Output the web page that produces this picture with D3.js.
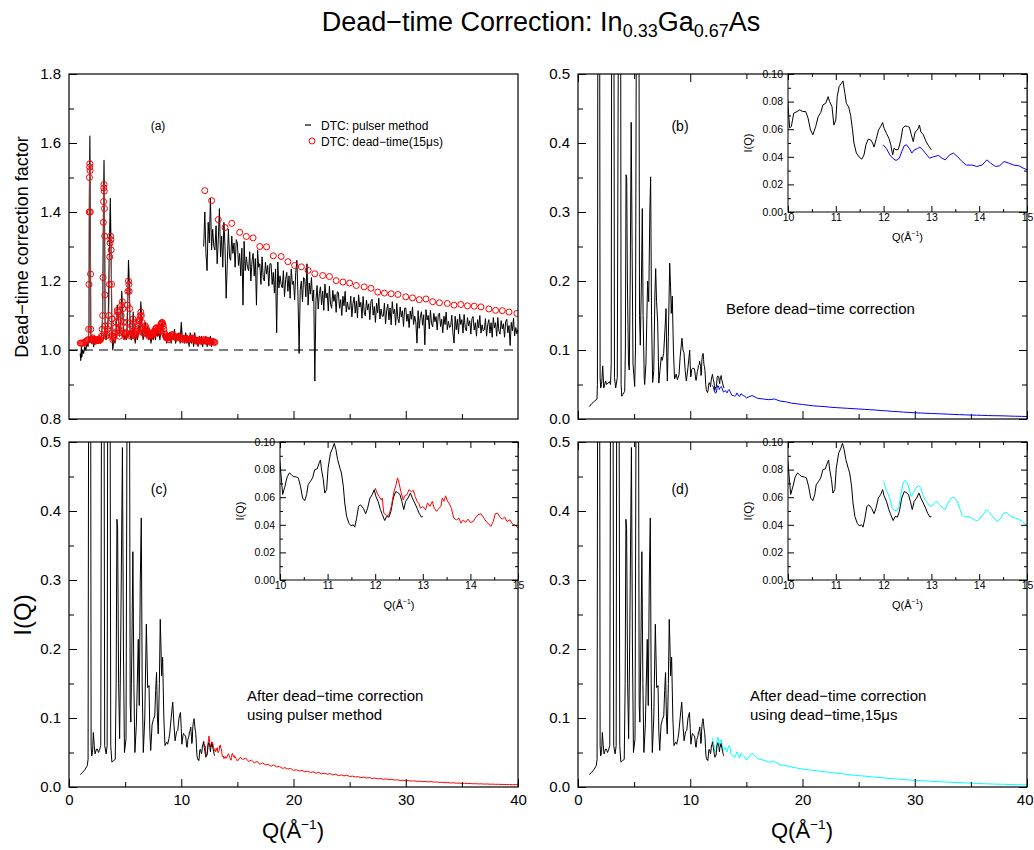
<!DOCTYPE html>
<html>
<head>
<meta charset="utf-8">
<script src="https://cdn.jsdelivr.net/npm/d3@7"></script>
<style>
  body { margin: 0; background: #fff; }
  svg { display: block; font-family: 'Liberation Sans', Arial, Helvetica, sans-serif; }
</style>
</head>
<body>
<div id="chart"></div>
<script>
// ---- data ----

// (a) dead-time correction factor, pulser method, low-Q bank  [Q, factor]
const dtcPulserLow = [
  [1.0,0.99],[1.05,0.97],[1.1,1.01],[1.15,0.98],[1.2,1.0],[1.3,0.99],[1.4,1.01],[1.5,1.0],[1.6,1.02],[1.7,1.01],
  [1.78,1.06],[1.82,1.45],[1.86,1.62],[1.9,1.4],[1.94,1.05],[2.0,1.02],[2.1,1.03],[2.2,1.01],[2.3,1.03],[2.4,1.02],
  [2.5,1.03],[2.6,1.02],[2.7,1.03],[2.8,1.02],[2.9,1.04],[3.0,1.1],[3.07,1.4],[3.12,1.55],[3.17,1.35],[3.22,1.06],
  [3.3,1.03],[3.4,1.05],[3.5,1.1],[3.6,1.3],[3.68,1.44],[3.75,1.28],[3.82,1.05],[3.9,1.0],[4.0,1.03],[4.1,1.02],
  [4.2,1.06],[4.3,1.13],[4.4,1.09],[4.5,1.04],[4.6,1.08],[4.7,1.17],[4.8,1.10],[4.9,1.03],[5.0,1.04],[5.1,1.03],
  [5.2,1.08],[5.3,1.26],[5.38,1.18],[5.45,1.04],[5.55,1.03],[5.65,1.06],[5.72,1.11],[5.8,1.05],[5.9,1.02],[6.0,1.05],
  [6.1,1.03],[6.2,1.07],[6.3,1.05],[6.4,1.14],[6.5,1.07],[6.6,1.03],[6.7,1.05],[6.8,1.08],[6.9,1.04],[7.0,1.06],
  [7.1,1.03],[7.2,1.05],[7.3,1.02],[7.4,1.04],[7.5,1.03],[7.6,1.05],[7.7,1.03],[7.8,1.06],[7.9,1.04],[8.0,1.05],
  [8.1,1.03],[8.2,1.07],[8.3,1.08],[8.4,1.05],[8.5,1.03],[8.6,1.04],[8.7,1.02],[8.8,1.04],[8.9,1.03],[9.0,1.05],
  [9.1,1.02],[9.2,1.04],[9.3,1.03],[9.4,1.06],[9.5,1.02],[9.6,1.04],[9.7,1.03],[9.8,1.05],[9.9,1.02],[10.0,1.08],
  [10.1,1.03],[10.2,1.04],[10.3,1.02],[10.4,1.05],[10.5,1.02],[10.6,1.04],[10.7,1.01],[10.8,1.05],[10.9,1.02],[11.0,1.04],
  [11.1,1.01],[11.2,1.05],[11.3,1.02],[11.4,1.03],[11.5,1.01],[11.6,1.04],[11.7,1.02],[11.8,1.04],[11.9,1.01],[12.0,1.03],
  [12.1,1.02],[12.2,1.04],[12.3,1.01],[12.4,1.03],[12.5,1.02],[12.6,1.04],[12.7,1.01],[12.8,1.03],[12.9,1.02],[13.0,1.02]
];

// (a) pulser method, high-Q bank, Q = 12.0 .. 40.0 every 0.1
const qPulserHigh = d3.range(12, 40.001, 0.1);
const dtcPulserHigh = [
  1.30,1.40,1.28,1.23,1.37,1.31,1.44,1.29,1.35,1.30,
  1.29,1.36,1.25,1.32,1.41,1.27,1.33,1.24,1.37,1.30,
  1.15,1.25,1.35,1.27,1.26,1.33,1.28,1.31,1.24,1.32,
  1.31,1.245,1.28,1.215,1.295,1.13,1.315,1.23,1.27,1.24,
  1.23,1.285,1.20,1.255,1.28,1.215,1.265,1.13,1.29,1.24,
  1.25,1.19,1.27,1.21,1.20,1.255,1.22,1.245,1.185,1.25,
  1.25,1.19,1.225,1.165,1.235,1.05,1.255,1.18,1.215,1.19,
  1.18,1.23,1.155,1.205,1.225,1.17,1.215,1.15,1.235,1.19,
  1.20,1.145,1.225,1.26,1.155,0.99,1.175,1.20,1.14,1.21,
  1.206,1.154,1.25,1.13,1.194,1.162,1.21,1.142,1.174,0.91,
  1.143,1.187,1.119,1.163,1.183,1.131,1.171,1.115,1.191,1.151,
  1.165,1.113,1.185,1.133,1.121,1.173,1.141,1.161,1.109,1.169,
  1.167,1.121,1.146,1.10,1.156,1.128,1.17,1.11,1.139,1.118,
  1.118,1.156,1.096,1.135,1.153,1.107,1.142,1.093,1.16,1.125,
  1.138,1.092,1.155,1.11,1.099,1.145,1.116,1.134,1.088,1.141,
  1.147,1.101,1.126,1.08,1.136,1.108,1.15,1.09,1.119,1.098,
  1.098,1.136,1.076,1.115,1.133,1.087,1.122,1.073,1.14,1.105,
  1.118,1.072,1.135,1.09,1.079,1.125,1.096,1.114,1.068,1.121,
  1.122,1.083,1.104,1.065,1.113,1.089,1.125,1.074,1.098,1.08,
  1.02,1.114,1.063,1.096,1.111,1.072,1.102,1.015,1.117,1.087,
  1.10,1.061,1.115,1.076,1.067,1.106,1.082,1.097,1.058,1.103,
  1.107,1.068,1.089,1.05,1.098,1.074,1.11,1.059,1.083,1.065,
  1.068,1.101,1.05,1.02,1.098,1.059,1.089,1.047,1.104,1.074,
  1.088,1.049,1.103,1.064,1.055,1.094,1.07,1.085,1.046,1.091,
  1.097,1.058,1.079,1.04,1.088,1.064,1.10,1.049,1.073,1.055,
  1.058,1.091,1.04,1.073,1.088,1.049,1.079,1.037,1.094,1.064,
  1.079,1.04,1.094,1.055,1.046,1.085,1.061,1.076,1.037,1.082,
  1.089,1.05,1.071,1.013,1.08,1.056,1.092,1.041,1.065,1.047,
  1.06
];

// (a) dead-time 15us correction, low-Q bank  [Q, factor]
const dtcDeadLow = [
  [1.0,1.02],[1.1,1.02],[1.2,1.02],[1.3,1.02],[1.4,1.023],[1.5,1.025],[1.6,1.027],[1.7,1.03],[1.75,1.06],[1.78,1.19],
  [1.8,1.40],[1.82,1.50],[1.84,1.53],[1.86,1.54],[1.88,1.52],[1.9,1.40],[1.92,1.22],[1.94,1.06],
  [2.0,1.03],[2.05,1.032],[2.1,1.035],[2.15,1.032],[2.2,1.03],[2.25,1.028],[2.3,1.025],[2.35,1.028],[2.4,1.03],[2.45,1.029],
  [2.5,1.028],[2.55,1.029],[2.6,1.03],[2.65,1.029],[2.7,1.028],[2.75,1.029],[2.8,1.03],[2.85,1.035],[2.9,1.04],[2.95,1.06],
  [3.0,1.10],[3.03,1.21],[3.06,1.37],[3.08,1.43],[3.1,1.47],[3.12,1.48],[3.14,1.46],[3.16,1.41],[3.18,1.33],[3.2,1.16],
  [3.23,1.07],[3.3,1.04],[3.35,1.045],[3.4,1.05],[3.45,1.06],[3.5,1.07],[3.55,1.1],[3.6,1.19],[3.63,1.27],[3.66,1.31],
  [3.7,1.33],[3.73,1.32],[3.76,1.29],[3.79,1.19],[3.82,1.09],[3.86,1.04],[3.9,1.03],[3.95,1.035],
  [4.0,1.04],[4.05,1.045],[4.1,1.05],[4.15,1.065],[4.2,1.08],[4.25,1.10],[4.3,1.115],[4.35,1.11],[4.4,1.08],[4.45,1.06],
  [4.5,1.04],[4.55,1.05],[4.6,1.07],[4.65,1.10],[4.7,1.13],[4.75,1.14],[4.8,1.12],[4.85,1.08],[4.9,1.05],[4.95,1.045],
  [5.0,1.04],[5.05,1.045],[5.1,1.05],[5.15,1.08],[5.2,1.13],[5.25,1.17],[5.3,1.20],[5.33,1.19],[5.36,1.17],[5.4,1.12],
  [5.45,1.06],[5.5,1.04],[5.55,1.045],[5.6,1.05],[5.65,1.07],[5.7,1.09],[5.75,1.08],[5.8,1.05],[5.85,1.045],[5.9,1.04],
  [5.95,1.045],[6.0,1.05],[6.05,1.055],[6.1,1.06],[6.15,1.07],[6.2,1.08],[6.25,1.085],[6.3,1.09],[6.35,1.10],[6.4,1.11],
  [6.45,1.10],[6.5,1.08],[6.55,1.06],[6.6,1.05],[6.65,1.048],[6.7,1.05],[6.75,1.06],[6.8,1.07],[6.85,1.065],[6.9,1.06],
  [6.95,1.055],[7.0,1.05],[7.05,1.045],[7.1,1.04],[7.15,1.045],[7.2,1.05],[7.25,1.045],[7.3,1.04],[7.35,1.045],[7.4,1.05],
  [7.45,1.047],[7.5,1.045],[7.55,1.048],[7.6,1.05],[7.65,1.055],[7.7,1.06],[7.75,1.063],[7.8,1.065],[7.85,1.058],[7.9,1.05],
  [7.95,1.055],[8.0,1.06],[8.05,1.062],[8.1,1.065],[8.15,1.07],[8.2,1.075],[8.25,1.078],[8.3,1.08],[8.35,1.076],[8.4,1.07],
  [8.45,1.06],[8.5,1.05],[8.55,1.045],[8.6,1.04],[8.65,1.037],[8.7,1.035],[8.75,1.038],[8.8,1.04],[8.85,1.035],[8.9,1.03],
  [8.95,1.035],[9.0,1.04],[9.1,1.043],[9.2,1.045],[9.3,1.042],[9.4,1.04],[9.5,1.037],[9.6,1.035],[9.7,1.038],[9.8,1.04],
  [9.9,1.037],[10.0,1.035],[10.1,1.032],[10.2,1.03],[10.3,1.033],[10.4,1.035],[10.5,1.032],[10.6,1.03],[10.7,1.031],[10.8,1.032],
  [10.9,1.034],[11.0,1.035],[11.1,1.032],[11.2,1.03],[11.3,1.027],[11.4,1.025],[11.5,1.027],[11.6,1.028],[11.7,1.026],[11.8,1.025],
  [11.9,1.028],[12.0,1.03],[12.1,1.027],[12.2,1.025],[12.3,1.027],[12.4,1.028],[12.5,1.025],[12.6,1.022],[12.7,1.024],[12.8,1.025],
  [12.9,1.023],[13.0,1.022]
];

// (a) dead-time 15us correction, high-Q bank
const qDeadHigh = [
  12.1,12.7,13.3,13.9,14.5,15.2,15.8,16.4,17.0,17.6,18.2,18.9,19.5,20.1,20.7,21.3,21.9,22.6,23.2,23.8,
  24.4,25.0,25.6,26.3,26.9,27.5,28.1,28.7,29.3,30.0,30.6,31.2,31.8,32.4,33.0,33.7,34.3,34.9,35.5,36.1,
  36.7,37.4,38.0,38.6,39.2,39.9
];
const dtcDeadHigh = [
  1.462,1.433,1.378,1.355,1.367,1.341,1.329,1.325,1.300,1.299,1.273,1.271,1.256,1.245,1.241,1.231,1.221,1.216,1.213,1.201,
  1.197,1.194,1.187,1.183,1.179,1.168,1.165,1.163,1.161,1.154,1.151,1.146,1.148,1.140,1.137,1.135,1.130,1.132,1.128,1.127,
  1.125,1.119,1.115,1.114,1.110,1.106
];

// I(Q) low-Q bank, before correction  [Q, I]
const iRawLow = [
  [1.0,0.018],[1.2,0.022],[1.48,0.026],[1.69,0.029],[1.73,0.05],[1.77,0.6],[1.85,1.5],[1.93,0.6],[1.97,0.06],[2.02,0.045],
  [2.1,0.05],[2.2,0.077],[2.3,0.045],[2.46,0.055],[2.55,0.05],[2.67,0.052],[2.8,0.054],[2.9,0.05],[2.96,0.08],[3.0,0.6],
  [3.1,1.2],[3.2,0.6],[3.25,0.06],[3.36,0.045],[3.5,0.06],[3.6,0.6],[3.7,1.0],[3.8,0.6],[3.84,0.05],[3.9,0.033],
  [4.0,0.036],[4.16,0.04],[4.22,0.1],[4.28,0.354],[4.34,0.35],[4.4,0.2],[4.5,0.08],[4.57,0.071],[4.65,0.2],[4.74,0.43],
  [4.82,0.25],[4.9,0.08],[5.05,0.047],[5.12,0.1],[5.2,0.6],[5.3,1.0],[5.43,0.6],[5.48,0.15],[5.55,0.107],[5.65,0.2],
  [5.73,0.305],[5.8,0.15],[5.9,0.06],[5.94,0.05],[6.05,0.08],[6.2,0.2],[6.3,0.17],[6.4,0.3],[6.47,0.351],[6.55,0.15],
  [6.65,0.053],[6.75,0.07],[6.85,0.18],[6.92,0.218],[7.0,0.17],[7.1,0.14],[7.2,0.052],[7.3,0.07],[7.42,0.09],[7.5,0.085],
  [7.63,0.095],[7.75,0.13],[7.84,0.16],[7.92,0.08],[7.96,0.055],[8.05,0.12],[8.17,0.226],[8.25,0.19],[8.31,0.153],[8.4,0.178],
  [8.5,0.1],[8.6,0.058],[8.75,0.065],[8.85,0.057],[9.0,0.064],[9.1,0.09],[9.26,0.117],[9.35,0.1],[9.44,0.096],[9.55,0.07],
  [9.65,0.055],[9.8,0.075],[9.95,0.1],
  [10.0,0.0776],[10.035,0.061],[10.07,0.062],[10.12,0.0716],[10.19,0.0728],[10.245,0.074],[10.31,0.0728],[10.37,0.0728],[10.42,0.068],[10.47,0.0595],
  [10.52,0.056],[10.58,0.062],[10.63,0.069],[10.685,0.072],[10.73,0.0776],[10.79,0.0788],[10.84,0.0836],[10.87,0.08],[10.92,0.0764],[10.96,0.063],
  [11.0,0.0667],[11.03,0.0836],[11.07,0.091],[11.12,0.0933],[11.15,0.095],[11.19,0.086],[11.22,0.0788],[11.27,0.076],[11.31,0.070],[11.35,0.0595],
  [11.38,0.05],[11.43,0.0427],[11.49,0.0398],[11.545,0.0383],[11.59,0.0414],[11.63,0.0487],[11.68,0.0528],[11.73,0.0523],[11.77,0.050],[11.80,0.047],
  [11.85,0.0535],[11.895,0.0595],[11.94,0.062],[11.98,0.0648],[12.01,0.0607],[12.06,0.057],[12.11,0.0535],[12.15,0.0487],[12.19,0.0414],[12.22,0.0463],
  [12.26,0.045],[12.31,0.0455],[12.36,0.0523],[12.40,0.0607],[12.45,0.0624],[12.5,0.062],[12.54,0.0614],[12.58,0.056],[12.62,0.051],[12.66,0.058],
  [12.71,0.0595],[12.75,0.063],[12.78,0.058],[12.83,0.056],[12.89,0.051],[12.94,0.048],[13.0,0.045]
];

// I(Q) low-Q bank, after correction (same in c and d)  [Q, I]
const iCorrLow = [
  [1.0,0.018],[1.2,0.021],[1.41,0.025],[1.63,0.031],[1.7,0.04],[1.75,0.6],[1.84,1.5],[1.93,0.6],[1.97,0.06],[2.02,0.045],
  [2.1,0.05],[2.17,0.079],[2.25,0.06],[2.32,0.048],[2.45,0.055],[2.53,0.055],[2.63,0.05],[2.71,0.053],[2.83,0.06],[2.9,0.6],
  [3.0,1.5],[3.12,0.6],[3.18,0.06],[3.31,0.048],[3.4,0.06],[3.45,0.6],[3.55,1.5],[3.66,0.6],[3.72,0.06],[3.82,0.036],
  [3.95,0.038],[4.12,0.04],[4.2,0.15],[4.27,0.388],[4.33,0.375],[4.42,0.15],[4.51,0.07],[4.6,0.2],[4.76,0.492],[4.85,0.2],
  [4.94,0.05],[5.08,0.07],[5.18,0.6],[5.28,1.5],[5.39,0.6],[5.45,0.12],[5.51,0.094],[5.6,0.2],[5.69,0.341],[5.78,0.15],
  [5.87,0.05],[6.0,0.09],[6.17,0.214],[6.26,0.118],[6.35,0.3],[6.44,0.39],[6.52,0.15],[6.62,0.05],[6.75,0.1],[6.89,0.236],
  [7.01,0.144],[7.13,0.147],[7.2,0.08],[7.28,0.053],[7.4,0.09],[7.52,0.098],[7.64,0.103],[7.72,0.14],[7.8,0.166],[7.88,0.1],
  [7.95,0.077],[8.05,0.15],[8.13,0.243],[8.2,0.2],[8.25,0.161],[8.34,0.188],[8.45,0.1],[8.55,0.06],[8.7,0.065],[8.79,0.062],
  [8.9,0.07],[8.97,0.077],[9.1,0.1],[9.24,0.123],[9.35,0.09],[9.45,0.067],[9.58,0.08],[9.69,0.082],[9.8,0.1],[9.93,0.108],
  [10.0,0.085],[10.056,0.062],[10.105,0.068],[10.15,0.0747],[10.2,0.0776],[10.24,0.0764],[10.28,0.075],[10.34,0.0747],[10.385,0.074],[10.43,0.068],
  [10.475,0.0594],[10.52,0.0575],[10.56,0.062],[10.59,0.069],[10.64,0.0715],[10.685,0.074],[10.73,0.08],[10.78,0.0805],[10.825,0.085],[10.85,0.087],
  [10.87,0.0805],[10.91,0.0727],[10.94,0.063],[10.98,0.0655],[11.01,0.081],[11.06,0.092],[11.1,0.095],[11.14,0.099],[11.175,0.0945],[11.21,0.0873],
  [11.26,0.081],[11.29,0.0776],[11.33,0.068],[11.36,0.0558],[11.4,0.046],[11.45,0.041],[11.49,0.0393],[11.54,0.04],[11.57,0.0383],[11.61,0.0448],
  [11.65,0.0533],[11.69,0.0545],[11.75,0.052],[11.8,0.048],[11.84,0.052],[11.89,0.0594],[11.94,0.062],[11.98,0.0655],[12.01,0.061],[12.06,0.057],
  [12.11,0.051],[12.15,0.0473],[12.2,0.0431],[12.24,0.046],[12.29,0.0456],[12.33,0.0497],[12.38,0.0594],[12.43,0.064],[12.47,0.0635],[12.52,0.062],
  [12.56,0.057],[12.6,0.051],[12.64,0.057],[12.69,0.0594],[12.74,0.063],[12.78,0.0594],[12.83,0.0558],[12.88,0.052],[12.92,0.0485],[12.97,0.0456],
  [13.0,0.046]
];

// I(Q) high-Q bank, before correction (blue)  [Q, I] for 12-15, then grid 15-40
const iRawHighNear = [
  [11.99,0.0487],[12.06,0.046],[12.13,0.0414],[12.19,0.039],[12.26,0.0373],[12.33,0.039],[12.38,0.0438],[12.43,0.048],[12.48,0.0487],[12.54,0.046],
  [12.59,0.0427],[12.64,0.045],[12.71,0.046],[12.76,0.047],[12.82,0.045],[12.89,0.042],[12.96,0.039],[13.04,0.040],[13.15,0.041],[13.22,0.039],
  [13.29,0.0378],[13.38,0.0414],[13.46,0.0427],[13.55,0.040],[13.64,0.0366],[13.73,0.034],[13.85,0.034],[13.95,0.033],[14.06,0.034],[14.16,0.0378],
  [14.24,0.0354],[14.34,0.033],[14.43,0.0335],[14.52,0.0366],[14.62,0.0354],[14.72,0.034],[14.83,0.0335],[14.92,0.0318],[15.0,0.0306]
];
const qHigh = d3.range(15, 40.01, 0.5);
const iRawHigh = [
  0.0306,0.034,0.030,0.029,0.028,0.029,0.026,0.025,0.023,0.022,
  0.021,0.020,0.019,0.0185,0.018,0.017,0.0165,0.016,0.0155,0.015,
  0.0145,0.014,0.0135,0.013,0.0122,0.0118,0.011,0.0106,0.010,0.0095,
  0.009,0.0087,0.0083,0.008,0.0077,0.0073,0.007,0.0066,0.0063,0.006,
  0.0057,0.0055,0.0053,0.005,0.0048,0.0047,0.0045,0.0042,0.004,0.0038,
  0.0036
];

// high-Q bank, corrected with pulser method (red)
const iPulserHighNear = [
  [12.0,0.0667],[12.04,0.063],[12.08,0.0606],[12.13,0.058],[12.15,0.0594],[12.18,0.0485],[12.24,0.0465],[12.29,0.0473],[12.34,0.0533],[12.39,0.0635],
  [12.43,0.068],[12.47,0.074],[12.5,0.0703],[12.54,0.064],[12.59,0.058],[12.62,0.061],[12.67,0.062],[12.71,0.0655],[12.76,0.064],[12.8,0.065],
  [12.84,0.0606],[12.88,0.057],[12.92,0.0553],[12.95,0.052],[13.0,0.0533],[13.06,0.051],[13.1,0.0558],[13.15,0.0533],[13.2,0.057],[13.24,0.052],
  [13.29,0.0497],[13.34,0.052],[13.38,0.0533],[13.41,0.0594],[13.44,0.057],[13.48,0.061],[13.52,0.057],[13.55,0.0558],[13.6,0.052],[13.65,0.0448],
  [13.71,0.0436],[13.76,0.0448],[13.8,0.0412],[13.85,0.0436],[13.9,0.0417],[13.95,0.0441],[14.0,0.0417],[14.06,0.0424],[14.1,0.0448],[14.16,0.0473],
  [14.22,0.048],[14.27,0.0456],[14.33,0.0424],[14.37,0.0412],[14.43,0.0388],[14.48,0.0424],[14.52,0.048],[14.57,0.0485],[14.62,0.0456],[14.67,0.0441],
  [14.72,0.0456],[14.77,0.0424],[14.83,0.0436],[14.88,0.0407],[14.93,0.04],[15.0,0.0376]
];
const qHighFine = d3.range(15, 40.01, 0.25);
const iPulserHigh = [
  0.038,0.043,0.040,0.042,0.037,0.039,0.035,0.037,0.033,0.035,
  0.032,0.033,0.030,0.032,0.029,0.030,0.027,0.028,0.026,0.027,
  0.024,0.025,0.023,0.024,0.022,0.023,0.021,0.022,0.020,0.021,
  0.019,0.020,0.0185,0.0195,0.0175,0.0185,0.0165,0.0175,0.016,0.0172,
  0.0152,0.0158,0.0145,0.015,0.0136,0.0143,0.013,0.0136,0.0124,0.0129,
  0.0118,0.0123,0.0112,0.0117,0.0106,0.0111,0.0100,0.0105,0.0095,0.0099,
  0.0090,0.0094,0.0086,0.0089,0.0082,0.0085,0.0078,0.0081,0.0074,0.0077,
  0.0070,0.0073,0.0066,0.0069,0.0062,0.0065,0.0058,0.0061,0.0055,0.0057,
  0.0052,0.0054,0.0049,0.0051,0.0046,0.0048,0.0044,0.0046,0.0042,0.0044,
  0.0040,0.0042,0.0038,0.0040,0.0036,0.0038,0.0035,0.0036,0.0033,0.0035,
  0.0032
];

// high-Q bank, corrected with dead-time 15us (cyan)
const iDeadHighNear = [
  [12.0,0.0715],[12.04,0.0667],[12.09,0.0625],[12.14,0.058],[12.18,0.052],[12.23,0.0504],[12.28,0.0504],[12.32,0.0533],[12.36,0.0618],[12.41,0.0703],
  [12.45,0.0722],[12.5,0.0703],[12.55,0.064],[12.58,0.0606],[12.63,0.064],[12.68,0.0667],[12.73,0.0684],[12.78,0.0667],[12.82,0.0618],[12.87,0.058],
  [12.93,0.0553],[12.98,0.0533],[13.03,0.0545],[13.08,0.0562],[13.12,0.057],[13.17,0.0545],[13.22,0.0528],[13.28,0.0509],[13.33,0.0545],[13.38,0.0577],
  [13.44,0.0601],[13.49,0.0594],[13.54,0.057],[13.59,0.0521],[13.64,0.0473],[13.7,0.0456],[13.77,0.046],[13.84,0.0448],[13.9,0.0436],[13.97,0.0429],
  [14.04,0.0456],[14.09,0.048],[14.15,0.0509],[14.2,0.0497],[14.27,0.0465],[14.34,0.0436],[14.39,0.0424],[14.45,0.0448],[14.51,0.0485],[14.57,0.049],
  [14.62,0.0473],[14.69,0.0456],[14.76,0.0448],[14.83,0.0441],[14.9,0.0424],[15.0,0.0393]
];
const iDeadHigh = [
  0.0393,0.049,0.041,0.039,0.036,0.037,0.032,0.031,0.029,0.0275,
  0.026,0.025,0.024,0.023,0.022,0.021,0.020,0.0195,0.018,0.0172,
  0.0165,0.0158,0.015,0.0143,0.0136,0.0128,0.012,0.0115,0.0108,0.0102,
  0.0097,0.0093,0.0088,0.0082,0.0077,0.0074,0.007,0.0067,0.0063,0.0059,
  0.0055,0.0052,0.0048,0.0046,0.0043,0.0041,0.0039,0.0036,0.0034,0.0032,
  0.003
];

// ---- layout ----
const svg = d3.select('#chart').append('svg').attr('width', 1034).attr('height', 850);
const MINUS = '\u2212';
let clipN = 0;

function makePanel(box, xDom, yDom) {
  const w = box.r - box.l, h = box.b - box.t;
  const g = svg.append('g').attr('transform', `translate(${box.l},${box.t})`);
  const x = d3.scaleLinear().domain(xDom).range([0, w]);
  const y = d3.scaleLinear().domain(yDom).range([h, 0]);
  const id = 'clip' + (clipN++);
  g.append('clipPath').attr('id', id).append('rect').attr('width', w).attr('height', h);
  g.append('rect').attr('width', w).attr('height', h).attr('fill', '#fff');
  const plot = g.append('g').attr('clip-path', `url(#${id})`);
  return { g, plot, x, y, w, h };
}

function axes(p, o) {
  const add = (gen, scale, vals, size, fmt, tr, pad) => {
    const a = p.g.append('g')
      .call(gen(scale).tickValues(vals).tickSize(-size).tickPadding(pad).tickFormat(fmt || (() => '')));
    if (tr) a.attr('transform', tr);
    a.attr('font-family', null).attr('font-size', null);
    a.select('.domain').remove();
    a.selectAll('line').attr('stroke', '#000').attr('stroke-width', 1);
    a.selectAll('text').attr('font-size', o.fs).attr('fill', '#000');
    return a;
  };
  const bx = add(d3.axisBottom, p.x, o.xMajor, o.big, o.xFmt, `translate(0,${p.h})`, o.xPad);
  if (o.lastEnd) {
    // keep the last label inside the page, as in the reference
    bx.selectAll('text').filter((d, i, n) => i === n.length - 1)
      .attr('text-anchor', 'end').attr('dx', o.lastEnd);
  }
  add(d3.axisBottom, p.x, o.xMinor, o.small, null, `translate(0,${p.h})`, 0);
  add(d3.axisLeft, p.y, o.yMajor, o.big, o.yFmt, null, o.yPad);
  add(d3.axisLeft, p.y, o.yMinor, o.small, null, null, 0);
  if (o.mirror) {
    add(d3.axisRight, p.y, o.yMajor, o.big, null, `translate(${p.w},0)`, 0);
    add(d3.axisRight, p.y, o.yMinor, o.small, null, `translate(${p.w},0)`, 0);
    add(d3.axisTop, p.x, o.xMajor, o.big, null, null, 0);
    add(d3.axisTop, p.x, o.xMinor, o.small, null, null, 0);
  }
  p.g.append('rect').attr('width', p.w).attr('height', p.h)
    .attr('fill', 'none').attr('stroke', '#000').attr('stroke-width', o.frame || 1.2);
}

function drawLine(p, data, color, width) {
  const line = d3.line().x(d => p.x(d[0])).y(d => p.y(d[1]));
  p.plot.append('path').datum(data).attr('d', line)
    .attr('fill', 'none').attr('stroke', color).attr('stroke-width', width || 1)
    .attr('stroke-linejoin', 'round');
}

function qLabel(x, y, fs) {
  const t = svg.append('text').attr('x', x).attr('y', y).attr('text-anchor', 'middle').attr('font-size', fs);
  t.append('tspan').text('Q(\u00C5');
  t.append('tspan').attr('font-size', fs * 0.62).attr('dy', -fs * 0.42).text(MINUS + '1');
  t.append('tspan').attr('dy', fs * 0.42).text(')');
}

function yLabel(x, y, fs, txt) {
  svg.append('text').attr('transform', `translate(${x},${y}) rotate(-90)`)
    .attr('text-anchor', 'middle').attr('font-size', fs).text(txt);
}

function note(x, y, fs, lines) {
  lines.forEach((s, i) => svg.append('text').attr('x', x).attr('y', y + i * 19).attr('font-size', fs).text(s));
}

const pairs = (qs, vs) => qs.map((q, i) => [q, vs[i]]);
const fmt1 = d3.format('.1f'), fmt2 = d3.format('.2f'), fmt0 = d3.format('d');

const xMajor = [0, 10, 20, 30, 40], xMinor = [5, 15, 25, 35];
const mainFs = 15;

const blueSeries = iRawHighNear.concat(pairs(qHigh, iRawHigh).slice(1));
const redSeries = iPulserHighNear.concat(pairs(qHighFine, iPulserHigh).slice(1));
const cyanSeries = iDeadHighNear.concat(pairs(qHigh, iDeadHigh).slice(1));

// ---- title ----
const title = svg.append('text').attr('x', 541).attr('y', 31).attr('text-anchor', 'middle').attr('font-size', 27);
title.append('tspan').text('Dead' + MINUS + 'time Correction: In');
title.append('tspan').attr('font-size', 18).attr('dy', 6).text('0.33');
title.append('tspan').attr('dy', -6).text('Ga');
title.append('tspan').attr('font-size', 18).attr('dy', 6).text('0.67');
title.append('tspan').attr('dy', -6).text('As');

// ---- (a) correction factor ----
const pA = makePanel({ l: 69, t: 74, r: 518, b: 419 }, [0, 40], [0.8, 1.8]);
pA.plot.append('line')
  .attr('x1', pA.x(0)).attr('x2', pA.x(40)).attr('y1', pA.y(1)).attr('y2', pA.y(1))
  .attr('stroke', '#000').attr('stroke-width', 1).attr('stroke-dasharray', '9,6');
drawLine(pA, dtcPulserLow, '#000', 1.1);
drawLine(pA, pairs(qPulserHigh, dtcPulserHigh), '#000', 1);
drawLine(pA, dtcDeadLow, '#a06060', 0.8);
pA.plot.selectAll('circle.dl').data(dtcDeadLow.concat(pairs(qDeadHigh, dtcDeadHigh))).join('circle')
  .attr('cx', d => pA.x(d[0])).attr('cy', d => pA.y(d[1])).attr('r', 3)
  .attr('fill', 'none').attr('stroke', '#ff0000').attr('stroke-width', 1);
axes(pA, {
  xMajor: [10, 20, 30], xMinor: [5, 15, 25, 35], yMajor: d3.range(0.8, 1.81, 0.2), yMinor: d3.range(0.9, 1.8, 0.2),
  big: 8, small: 5, xFmt: null, yFmt: fmt1, fs: mainFs, xPad: 7, yPad: 8
});
svg.append('text').attr('x', 158).attr('y', 130).attr('text-anchor', 'middle').attr('font-size', 12).text('(a)');
svg.append('line').attr('x1', 305).attr('x2', 311).attr('y1', 125).attr('y2', 125).attr('stroke', '#000').attr('stroke-width', 1.2);
svg.append('text').attr('x', 321).attr('y', 130).attr('font-size', 12).text('DTC: pulser method');
svg.append('circle').attr('cx', 312).attr('cy', 141).attr('r', 3).attr('fill', 'none').attr('stroke', '#ff0000');
svg.append('text').attr('x', 321).attr('y', 146).attr('font-size', 12).text('DTC: dead' + MINUS + 'time(15\u03BCs)');
yLabel(28, 247, 18, 'Dead' + MINUS + 'time correction factor');

// ---- I(Q) panels ----
const iqAxes = (p, labels) => axes(p, {
  xMajor, xMinor, yMajor: d3.range(0, 0.51, 0.1), yMinor: d3.range(0.05, 0.5, 0.1),
  big: 8, small: 5, xFmt: labels ? fmt0 : null, yFmt: fmt1, fs: mainFs, xPad: 7, yPad: 8,
  mirror: p.mirror, lastEnd: p.lastEnd
});
const insetAxes = p => axes(p, {
  xMajor: d3.range(10, 15.01, 1), xMinor: d3.range(10.5, 15, 1), yMajor: d3.range(0, 0.101, 0.02), yMinor: d3.range(0.01, 0.1, 0.02),
  big: 6, small: 3, xFmt: fmt0, yFmt: fmt2, fs: 10.5, xPad: 2, yPad: 5, mirror: true, frame: 1
});
function insetLabels(p, box) {
  qLabel((box.l + box.r) / 2, box.b + 29, 11);
  yLabel(box.l - 36, (box.t + box.b) / 2, 11, 'I(Q)');
}

// (b)
const pB = makePanel({ l: 578, t: 74, r: 1027, b: 419 }, [0, 40], [0, 0.5]);
pB.mirror = true;
drawLine(pB, iRawLow, '#000');
drawLine(pB, blueSeries, '#0000ff');
iqAxes(pB, false);
const boxB = { l: 788, t: 74, r: 1027, b: 212 };
const iB = makePanel(boxB, [10, 15], [0, 0.1]);
drawLine(iB, iRawLow, '#000');
drawLine(iB, blueSeries, '#0000ff');
insetAxes(iB);
insetLabels(iB, boxB);
svg.append('text').attr('x', 680).attr('y', 131).attr('text-anchor', 'middle').attr('font-size', 14).text('(b)');
note(726, 314, 15, ['Before dead' + MINUS + 'time correction']);

// (c)
const pC = makePanel({ l: 69, t: 442, r: 518, b: 787 }, [0, 40], [0, 0.5]);
drawLine(pC, redSeries, '#ff0000');
drawLine(pC, iCorrLow, '#000');
iqAxes(pC, true);
const boxC = { l: 280, t: 442, r: 518, b: 580 };
const iC = makePanel(boxC, [10, 15], [0, 0.1]);
drawLine(iC, iCorrLow, '#000');
drawLine(iC, redSeries, '#ff0000');
insetAxes(iC);
insetLabels(iC, boxC);
svg.append('text').attr('x', 159).attr('y', 494).attr('text-anchor', 'middle').attr('font-size', 14).text('(c)');
note(247, 701, 15, ['After dead' + MINUS + 'time correction', 'using pulser method']);

// (d)
const pD = makePanel({ l: 578, t: 442, r: 1027, b: 787 }, [0, 40], [0, 0.5]);
pD.mirror = true;
pD.lastEnd = 6;
drawLine(pD, cyanSeries, '#00ffff');
drawLine(pD, iCorrLow, '#000');
iqAxes(pD, true);
const boxD = { l: 788, t: 442, r: 1027, b: 580 };
const iD = makePanel(boxD, [10, 15], [0, 0.1]);
drawLine(iD, iCorrLow, '#000');
drawLine(iD, cyanSeries, '#00ffff');
insetAxes(iD);
insetLabels(iD, boxD);
svg.append('text').attr('x', 680).attr('y', 494).attr('text-anchor', 'middle').attr('font-size', 14).text('(d)');
note(750, 701, 15, ['After dead' + MINUS + 'time correction', 'using dead' + MINUS + 'time,15\u03BCs']);

// shared axis titles
yLabel(31, 615, 24, 'I(Q)');
qLabel(293, 838, 22);
qLabel(802, 838, 22);
</script>
</body>
</html>
